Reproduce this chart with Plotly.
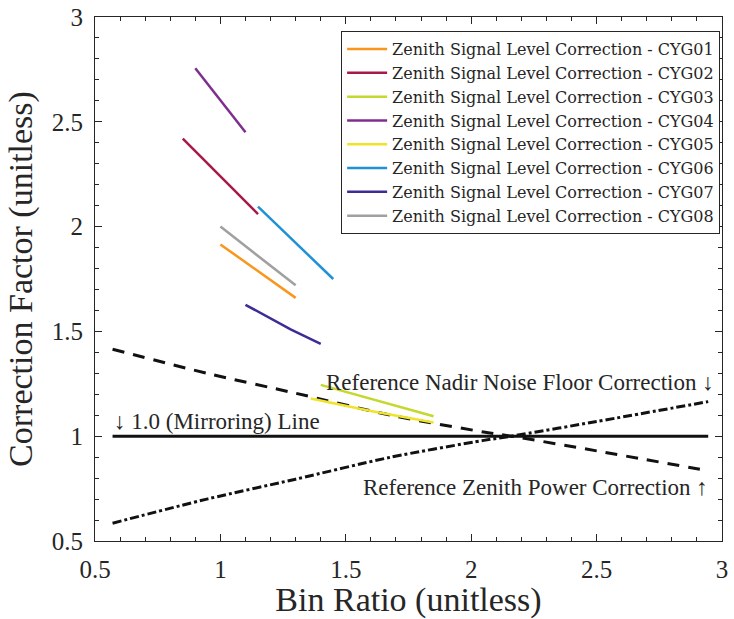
import plotly.graph_objects as go

# Zenith signal level corrections per spacecraft (bin ratio vs correction factor)
cyg01_x = [1.0, 1.3]
cyg01_y = [1.915, 1.66]
cyg02_x = [0.85, 1.0, 1.15]
cyg02_y = [2.42, 2.238, 2.06]
cyg03_x = [1.4, 1.85]
cyg03_y = [1.245, 1.095]
cyg04_x = [0.9, 1.1]
cyg04_y = [2.755, 2.45]
cyg05_x = [1.36, 1.6, 1.85]
cyg05_y = [1.18, 1.12, 1.065]
cyg06_x = [1.15, 1.45]
cyg06_y = [2.095, 1.75]
cyg07_x = [1.1, 1.28, 1.4]
cyg07_y = [1.627, 1.51, 1.44]
cyg08_x = [1.0, 1.3]
cyg08_y = [2.0, 1.72]

# Reference curves
ref_x = [0.57, 0.95, 1.3, 1.68, 2.05, 2.16, 2.5, 2.945]
nadir_noise_y = [1.415, 1.299, 1.205, 1.10, 1.02, 1.0, 0.93, 0.835]
zenith_power_y = [0.585, 0.701, 0.795, 0.90, 0.98, 1.0, 1.07, 1.165]
mirror_x = [0.57, 2.945]
mirror_y = [1.0, 1.0]

series_names = ["CYG01", "CYG02", "CYG03", "CYG04", "CYG05", "CYG06", "CYG07", "CYG08"]
series_x = [cyg01_x, cyg02_x, cyg03_x, cyg04_x, cyg05_x, cyg06_x, cyg07_x, cyg08_x]
series_y = [cyg01_y, cyg02_y, cyg03_y, cyg04_y, cyg05_y, cyg06_y, cyg07_y, cyg08_y]
series_colors = ["#F8961E", "#A51A4A", "#C4D82E", "#7E2F8E",
                 "#F0E42A", "#1F92D6", "#3C2D96", "#A0A0A0"]

INK = "#262626"
SERIF = "'Liberation Serif', 'DejaVu Serif', serif"
SERIF_WIDE = "'DejaVu Serif', 'Liberation Serif', serif"

fig = go.Figure()

# black reference lines first so the coloured series sit above them
fig.add_trace(go.Scatter(x=mirror_x, y=mirror_y, mode="lines", showlegend=False,
                         line=dict(color="#111111", width=3)))
fig.add_trace(go.Scatter(x=ref_x, y=nadir_noise_y, mode="lines", showlegend=False,
                         line=dict(color="#111111", width=3, dash="12px,9px",
                                   shape="spline", smoothing=0.8)))
fig.add_trace(go.Scatter(x=ref_x, y=zenith_power_y, mode="lines", showlegend=False,
                         line=dict(color="#111111", width=3, dash="9px,3px,3px,3px",
                                   shape="spline", smoothing=0.8)))

for name, xs, ys, col in zip(series_names, series_x, series_y, series_colors):
    fig.add_trace(go.Scatter(
        x=xs, y=ys, mode="lines",
        name=f"Zenith Signal Level Correction - {name}",
        line=dict(color=col, width=2.5),
    ))

axis_common = dict(
    showline=True, linecolor=INK, linewidth=1, mirror="allticks",
    ticks="inside", ticklen=7, tickwidth=1, tickcolor=INK,
    showgrid=False, zeroline=False, automargin=False,
    tickfont=dict(family=SERIF, size=25, color=INK),
    minor=dict(ticks="inside", ticklen=4, tickwidth=1, tickcolor=INK, dtick=0.1),
)

fig.update_xaxes(
    range=[0.5, 3], tickvals=[0.5, 1, 1.5, 2, 2.5, 3],
    ticktext=["0.5", "1", "1.5", "2", "2.5", "3"],
    title=dict(text="Bin Ratio (unitless)", font=dict(family=SERIF, size=34, color=INK),
               standoff=6),
    ticklabelstandoff=6,
    **axis_common,
)
fig.update_yaxes(
    range=[0.5, 3], tickvals=[0.5, 1, 1.5, 2, 2.5, 3],
    ticktext=["0.5", "1", "1.5", "2", "2.5", "3"],
    title=dict(text="Correction Factor (unitless)", font=dict(family=SERIF, size=34, color=INK),
               standoff=8),
    ticklabelstandoff=6,
    **axis_common,
)

ann_font = dict(family=SERIF, size=23, color=INK)
fig.add_annotation(x=0.568, y=1.068, xref="x", yref="y", text="↓ 1.0 (Mirroring) Line",
                   showarrow=False, xanchor="left", yanchor="middle", font=ann_font)
fig.add_annotation(x=2.975, y=1.254, xref="x", yref="y",
                   text="Reference Nadir Noise Floor Correction ↓",
                   showarrow=False, xanchor="right", yanchor="middle", font=ann_font)
fig.add_annotation(x=2.952, y=0.753, xref="x", yref="y",
                   text="Reference Zenith Power Correction ↑",
                   showarrow=False, xanchor="right", yanchor="middle", font=ann_font)

fig.update_layout(
    width=734, height=619,
    margin=dict(l=95, r=12, t=17, b=78),
    paper_bgcolor="white", plot_bgcolor="white",
    legend=dict(
        x=0.997, y=0.973, xanchor="right", yanchor="top",
        bgcolor="white", bordercolor=INK, borderwidth=1,
        itemwidth=40,
        font=dict(family=SERIF_WIDE, size=16, color=INK),
    ),
)

fig.write_html("out.html")
